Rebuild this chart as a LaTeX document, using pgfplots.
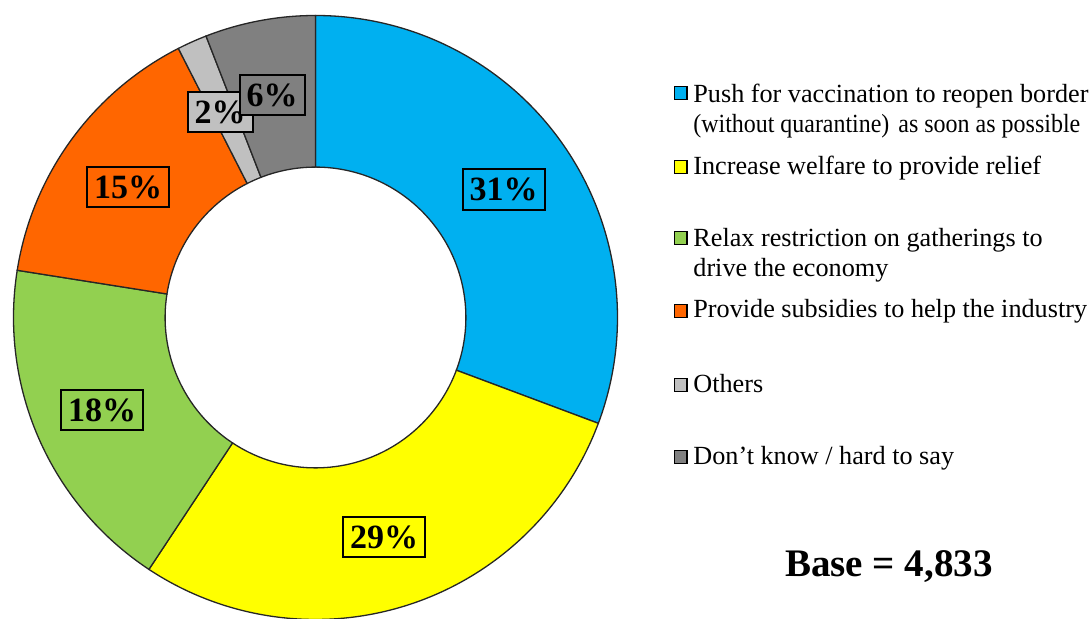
\documentclass[border=0pt]{standalone}
\usepackage{pgfplots}
\usepackage{pgfplotstable}
\pgfplotsset{compat=1.18}
\usepackage{graphicx}
\usepackage{fontspec}
\setmainfont{Liberation Serif}

\definecolor{cBlue}{HTML}{00B0F0}
\definecolor{cYellow}{HTML}{FFFF00}
\definecolor{cGreen}{HTML}{92D050}
\definecolor{cOrange}{HTML}{FF6600}
\definecolor{cLight}{HTML}{C0C0C0}
\definecolor{cDark}{HTML}{808080}

% shares (labels show 31, 29, 18, 15, 2, 6 %)
\pgfplotstableread{
idx value
0 30.7
1 28.6
2 18.2
3 15.0
4 1.6
5 5.9
}\donutdata

\newcommand\ang[1]{\csname ang#1\endcsname}
% px -> axis coordinates
\newcommand\px[2]{(axis cs:{(#1-315.5)/302},{(317.5-#2)/302})}
\def\Rout{151pt}
\def\rin{0.498}
\def\Rin{75.2pt}
\newcommand\sector[3]{%
  \filldraw[fill=#3, draw=black!85, line width=0.65pt]
    (axis cs:{cos(#1)},{sin(#1)}) arc[start angle=#1, end angle=#2, radius=\Rout]
    -- (axis cs:{\rin*cos(#2)},{\rin*sin(#2)}) arc[start angle=#2, end angle=#1, radius=\Rin] -- cycle;}

\begin{document}
\begin{tikzpicture}
% cumulative angles from the data
\pgfmathsetmacro\total{0}
\pgfplotsforeachungrouped \i in {0,...,5}{%
  \pgfplotstablegetelem{\i}{value}\of\donutdata
  \pgfmathsetmacro\total{\total+\pgfplotsretval}%
  \xdef\total{\total}}
\xdef\angn{90}
\expandafter\xdef\csname ang0\endcsname{90}
\pgfplotsforeachungrouped \i in {0,...,5}{%
  \pgfplotstablegetelem{\i}{value}\of\donutdata
  \pgfmathsetmacro\tmp{\angn-\pgfplotsretval/\total*360}%
  \xdef\angn{\tmp}%
  \pgfmathtruncatemacro\j{\i+1}%
  \expandafter\xdef\csname ang\j\endcsname{\tmp}}
\begin{axis}[x=151pt, y=151pt,
  xmin=-1.04470, xmax=2.56788, ymin=-0.99834, ymax=1.05132,
  hide axis, clip=false]
\sector{\ang{0}}{\ang{1}}{cBlue}
\sector{\ang{1}}{\ang{2}}{cYellow}
\sector{\ang{2}}{\ang{3}}{cGreen}
\sector{\ang{3}}{\ang{4}}{cOrange}
\sector{\ang{4}}{\ang{5}}{cLight}
\sector{\ang{5}}{\ang{6}}{cDark}
% data labels
\tikzset{lab/.style={draw=black, line width=1pt, inner xsep=3.5pt, inner ysep=4.3pt, font=\fontsize{17}{17}\selectfont\bfseries}}
\node[lab, fill=cBlue] at \px{503.5}{189.5} {31\%};
\node[lab, fill=cYellow] at \px{384}{537} {29\%};
\node[lab, fill=cGreen] at \px{102}{410} {18\%};
\node[lab, fill=cOrange] at \px{128}{187} {15\%};
\node[lab, fill=cLight] at \px{220}{112} {2\%};
\node[lab, fill=cDark] at \px{272}{95} {6\%};
% legend
\tikzset{lsq/.style={draw=black, line width=0.7pt, minimum size=6.3pt, inner sep=0pt},
         ltx/.style={anchor=base west, inner sep=0pt, font=\fontsize{13.1}{13.1}\selectfont}}
\node[lsq, fill=cBlue] at \px{680.5}{93} {};
\node[ltx] at \px{693}{103} {Push for vaccination to reopen border};
\node[ltx] at \px{693}{133} {\resizebox{98pt}{\height}{(without quarantine)}};
\node[ltx] at \px{898}{133} {\resizebox{91pt}{\height}{as soon as possible}};
\node[lsq, fill=cYellow] at \px{680.5}{167} {};
\node[ltx] at \px{693}{175} {Increase welfare to provide relief};
\node[lsq, fill=cGreen] at \px{680.5}{238} {};
\node[ltx] at \px{693}{247} {Relax restriction on gatherings to};
\node[ltx] at \px{693}{277} {drive the economy};
\node[lsq, fill=cOrange] at \px{680.5}{311} {};
\node[ltx] at \px{693}{318} {Provide subsidies to help the industry};
\node[lsq, fill=cLight] at \px{680.5}{385} {};
\node[ltx] at \px{693}{393} {Others};
\node[lsq, fill=cDark] at \px{680.5}{457} {};
\node[ltx] at \px{693}{465} {Don’t know / hard to say};
\node[anchor=base, font=\fontsize{19.5}{19.5}\selectfont\bfseries, inner sep=0pt] at \px{889}{577} {Base = 4,833};
\end{axis}
\pgfresetboundingbox
\useasboundingbox (current axis.south west) rectangle (current axis.north east);
\end{tikzpicture}
\end{document}
